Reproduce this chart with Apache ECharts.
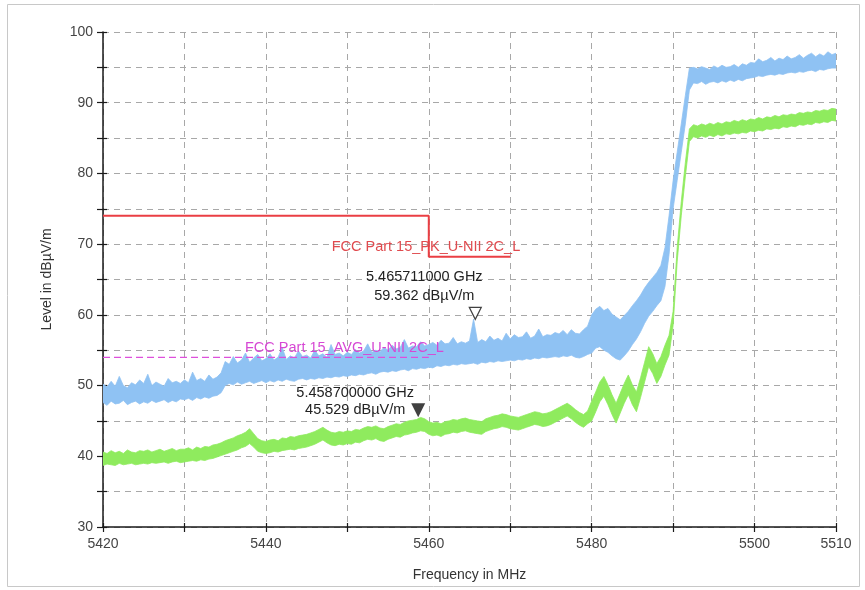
<!DOCTYPE html>
<html>
<head>
<meta charset="utf-8">
<script src="https://cdn.jsdelivr.net/npm/echarts@6/dist/echarts.min.js"></script>
<style>html,body{margin:0;padding:0;background:#fff}#c{width:865px;height:590px}</style>
</head>
<body>
<div id="c"></div>
<script>
// Sweep definition (MHz)
const FREQ_START = 5420;
const FREQ_STEP = 0.5;

// Peak detector trace (blue): max / min of the displayed noise band, dBµV/m
const peakMax = [
  50.2,49.8,50.6,49.9,51.3,50.0,49.7,50.4,50.1,50.8,
  50.3,51.6,50.0,50.5,50.2,49.9,51.0,50.4,50.6,50.3,
  50.8,50.4,51.9,50.7,51.0,50.6,51.5,50.9,51.2,51.8,
  53.4,53.0,54.1,53.2,53.6,54.6,53.3,53.9,54.4,53.5,
  53.8,54.5,53.6,54.0,55.4,53.7,54.2,53.9,54.9,54.1,
  54.3,53.9,55.0,54.2,54.5,54.0,55.8,54.4,54.6,54.2,
  54.7,54.4,55.1,54.6,54.9,55.9,54.7,55.0,54.8,55.4,
  55.0,55.7,55.2,55.4,56.5,55.3,55.6,55.5,56.2,55.6,
  55.8,56.1,55.7,56.4,55.9,56.0,56.8,55.9,56.2,56.0,
  56.3,59.4,56.1,56.5,56.2,57.0,56.4,56.7,56.3,57.4,
  56.6,57.2,56.8,56.9,57.6,56.7,57.0,58.0,56.9,57.2,
  57.1,57.5,57.3,57.8,57.2,57.9,57.4,57.3,57.9,58.4,
  60.0,60.8,61.2,60.6,60.9,60.1,59.7,59.3,59.9,60.5,
  61.3,62.0,62.8,63.8,64.6,65.3,66.0,67.0,69.5,74.0,
  79.0,83.0,87.0,91.0,94.9,95.0,94.8,95.1,94.9,94.7,
  95.2,94.9,95.3,95.0,95.1,95.4,95.0,95.5,95.3,95.7,
  95.6,96.2,95.8,96.0,96.4,95.9,96.3,96.1,96.6,96.2,
  96.4,96.8,96.3,96.7,97.0,96.5,96.9,96.6,97.2,96.8,
  97.0
];
const peakMin = [
  47.6,47.2,47.8,47.4,47.5,47.9,47.3,47.6,47.8,47.4,
  47.7,47.5,47.9,47.6,47.8,48.0,47.6,47.9,47.7,48.1,
  48.0,48.2,47.9,48.3,48.1,48.4,48.2,48.5,48.6,49.0,
  50.0,50.3,50.1,50.5,50.2,50.4,50.6,50.3,50.5,50.7,
  50.4,50.7,50.5,50.8,50.6,50.9,50.7,50.6,50.9,51.0,
  50.8,51.0,50.9,51.1,51.0,51.2,51.1,51.3,51.2,51.4,
  51.3,51.5,51.4,51.6,51.5,51.7,51.8,51.6,51.9,52.0,
  51.9,52.1,52.0,52.2,52.3,52.1,52.4,52.3,52.5,52.4,
  52.6,52.5,52.8,52.7,52.9,52.8,53.0,52.9,53.1,53.0,
  53.1,53.2,53.0,53.3,53.2,53.4,53.3,53.5,53.4,53.5,
  53.6,53.5,53.7,53.6,53.8,53.7,53.9,53.8,54.0,53.9,
  54.0,54.1,54.0,54.2,54.1,54.3,54.0,53.9,54.1,54.4,
  54.6,55.3,55.5,55.0,54.7,54.2,53.8,53.6,54.2,54.9,
  55.8,56.6,57.6,58.8,59.8,60.5,61.3,62.0,64.0,68.5,
  75.0,79.0,83.0,87.0,91.8,92.8,92.7,93.0,92.6,92.9,
  93.0,92.8,93.1,92.9,93.2,93.0,93.3,93.1,93.4,93.5,
  93.6,93.8,93.7,93.9,94.0,93.9,94.1,94.0,94.2,94.3,
  94.2,94.4,94.3,94.5,94.6,94.4,94.7,94.6,94.8,94.9,
  94.9
];

// Average detector trace (green): max / min of the noise band, dBµV/m
const avgMax = [
  40.6,40.4,40.8,40.5,40.7,40.4,40.9,40.6,40.5,40.8,
  40.7,40.9,40.6,40.8,41.0,40.7,40.9,41.1,40.8,41.0,
  41.0,41.2,40.9,41.3,41.1,41.4,41.3,41.6,41.7,41.9,
  42.2,42.4,42.6,42.9,43.1,43.4,43.9,43.2,42.5,42.2,
  42.1,42.3,42.4,42.2,42.6,42.5,42.8,42.7,42.9,43.0,
  43.1,43.3,43.5,43.8,44.1,43.7,43.4,43.3,43.5,43.4,
  43.6,43.5,43.8,43.7,44.0,44.2,44.1,44.3,44.0,43.9,
  44.2,44.4,44.6,44.5,44.8,45.0,45.1,45.2,45.5,45.3,
  44.9,44.7,44.8,44.6,44.9,45.0,45.2,45.1,45.3,45.4,
  45.2,45.1,45.0,44.9,45.3,45.5,45.7,45.8,46.0,45.9,
  45.7,45.6,45.5,45.7,45.9,46.1,46.3,46.2,46.0,46.1,
  46.3,46.6,46.9,47.2,47.5,47.1,46.6,46.2,45.9,46.4,
  47.8,49.1,50.5,51.3,50.1,48.7,47.5,48.9,50.3,51.5,
  50.1,49.1,51.1,53.3,55.5,54.5,53.1,54.1,55.7,57.1,
  60.5,69.5,76.0,81.5,86.3,86.9,86.7,87.0,86.8,87.1,
  86.9,87.2,87.0,87.3,87.2,87.5,87.3,87.6,87.4,87.7,
  87.6,87.9,87.7,88.0,87.9,88.2,88.0,88.3,88.2,88.4,
  88.3,88.6,88.5,88.7,88.6,88.9,88.8,89.0,88.9,89.2,
  89.1
];
const avgMin = [
  38.7,38.9,38.8,38.7,39.0,38.8,38.9,39.0,38.8,38.9,
  39.0,38.9,39.1,39.0,39.1,39.2,39.0,39.2,39.3,39.1,
  39.2,39.3,39.4,39.3,39.5,39.4,39.6,39.7,39.9,40.1,
  40.3,40.5,40.7,40.9,41.2,41.4,41.8,41.3,40.7,40.5,
  40.4,40.5,40.7,40.6,40.8,40.9,41.0,40.9,41.1,41.2,
  41.3,41.5,41.7,42.0,42.3,41.9,41.6,41.5,41.7,41.6,
  41.8,41.7,42.0,41.9,42.2,42.4,42.3,42.5,42.2,42.1,
  42.4,42.6,42.8,42.7,43.0,43.1,43.3,43.4,43.6,43.5,
  43.1,42.9,43.0,42.8,43.1,43.2,43.4,43.3,43.5,43.6,
  43.4,43.3,43.2,43.1,43.5,43.7,43.9,44.0,44.2,44.1,
  43.9,43.8,43.7,43.9,44.1,44.3,44.5,44.4,44.2,44.3,
  44.5,44.8,45.1,45.4,45.7,45.3,44.8,44.4,44.1,44.6,
  45.0,46.3,47.7,48.5,47.3,45.9,44.7,46.1,47.5,48.7,
  47.3,46.3,48.3,50.5,52.7,51.7,50.3,51.3,52.9,54.3,
  58.5,67.5,74.0,79.5,84.5,85.2,85.0,85.3,85.1,85.4,
  85.2,85.5,85.3,85.6,85.5,85.7,85.6,85.8,85.7,86.0,
  85.9,86.1,86.0,86.3,86.2,86.4,86.3,86.6,86.5,86.7,
  86.6,86.9,86.8,87.0,86.9,87.2,87.1,87.3,87.2,87.5,
  87.4
];

// Limit lines
const pkLimitFreq = [5420, 5460, 5460, 5470];
const pkLimitLevel = [74, 74, 68.2, 68.2];
const pkLimitName = 'FCC Part 15_PK_U-NII 2C_L';
const avgLimitFreq = [5420, 5460];
const avgLimitLevel = [54, 54];
const avgLimitName = 'FCC Part 15_AVG_U-NII 2C_L';

// Markers
const markerFreqMHz = [5465.711, 5458.7];
const markerLevel = [59.362, 45.529];
const markerFreqText = ['5.465711000 GHz', '5.458700000 GHz'];
const markerLevelText = ['59.362 dBµV/m', '45.529 dBµV/m'];

// Axis ticks
const yTickLabels = [30, 40, 50, 60, 70, 80, 90, 100];
const xTickLabels = [5420, 5440, 5460, 5480, 5500, 5510];

const freqOf = (i) => FREQ_START + i * FREQ_STEP;
const pairs = (xs, ys) => xs.map((x, i) => [x, ys[i]]);

const FONT = '"Liberation Sans", Arial, sans-serif';
const BLUE = '#8fc2f3';
const GREEN = '#8feb5e';
const chart = echarts.init(document.getElementById('c'), null, {renderer: 'canvas'});

const axisLineStyle = {color: '#1a1a1a', width: 1.5};

// Min/max noise band drawn as one polygon through the chart's coordinate system
function band(name, hi, lo, color) {
  return {
    type: 'custom', name: name, z: 3, clip: true,
    data: hi.map((v, i) => [freqOf(i), v, lo[i]]),
    encode: {x: 0, y: [1, 2]},
    renderItem: function (params, api) {
      if (params.dataIndex !== 0) return null;
      const pts = [];
      for (let i = 0; i < hi.length; i++) pts.push(api.coord([freqOf(i), hi[i]]));
      for (let i = lo.length - 1; i >= 0; i--) pts.push(api.coord([freqOf(i), lo[i]]));
      return {
        type: 'polygon', shape: {points: pts},
        style: {fill: color, stroke: color, lineWidth: 0.8, lineJoin: 'round'}
      };
    }
  };
}

const option = {
  animation: false,
  backgroundColor: '#fff',
  grid: {left: 103, right: 29, top: 32, bottom: 63, containLabel: false},
  xAxis: [{
    type: 'value', min: 5420, max: 5510, interval: 10,
    name: 'Frequency in MHz', nameLocation: 'middle', nameGap: 41,
    nameTextStyle: {fontFamily: FONT, fontSize: 14, color: '#333'},
    axisLine: {show: true, onZero: false, lineStyle: axisLineStyle},
    axisTick: {show: true, length: 5, lineStyle: {color: '#1a1a1a', width: 1.2}},
    axisLabel: {fontFamily: FONT, fontSize: 14, color: '#444', margin: 10,
      formatter: v => xTickLabels.includes(v) ? String(v) : ''},
    splitLine: {show: true, lineStyle: {color: '#a8a8a8', type: [6, 5], width: 1}}
  }, {
    type: 'value', min: 5420, max: 5510, interval: 10, position: 'bottom',
    axisLine: {show: false}, axisLabel: {show: false}, splitLine: {show: false},
    axisTick: {show: true, inside: true, length: 4, lineStyle: {color: '#1a1a1a', width: 1.2}}
  }],
  yAxis: [{
    type: 'value', min: 30, max: 100, interval: 5,
    name: 'Level in dBµV/m', nameLocation: 'middle', nameGap: 49,
    nameTextStyle: {fontFamily: FONT, fontSize: 14, color: '#333'},
    axisLine: {show: true, onZero: false, lineStyle: axisLineStyle},
    axisTick: {show: true, length: 6, lineStyle: {color: '#1a1a1a', width: 1.2}},
    axisLabel: {fontFamily: FONT, fontSize: 14, color: '#444', margin: 10,
      formatter: v => yTickLabels.includes(v) ? String(v) : ''},
    splitLine: {show: true, lineStyle: {color: '#a8a8a8', type: [6, 5], width: 1}}
  }, {
    type: 'value', min: 30, max: 100, interval: 5, position: 'left',
    axisLine: {show: false}, axisLabel: {show: false}, splitLine: {show: false},
    axisTick: {show: true, inside: true, length: 4, lineStyle: {color: '#1a1a1a', width: 1.2}}
  }],
  series: [
    band('Peak', peakMax, peakMin, BLUE),
    band('Average', avgMax, avgMin, GREEN),
    {
      type: 'line', name: pkLimitName, data: pairs(pkLimitFreq, pkLimitLevel), showSymbol: false,
      lineStyle: {color: '#ea3f44', width: 2}, z: 4
    },
    {
      type: 'line', name: avgLimitName, data: pairs(avgLimitFreq, avgLimitLevel), showSymbol: false,
      lineStyle: {color: '#de4fdc', width: 1.3, type: [7, 4]}, z: 4
    },
    {
      type: 'scatter', name: 'M1', data: [[markerFreqMHz[0], markerLevel[0]]],
      symbol: 'triangle', symbolRotate: 180, symbolSize: [12, 12], symbolOffset: [0, -6],
      itemStyle: {color: '#fff', borderColor: '#111', borderWidth: 1.2}, z: 6
    },
    {
      type: 'scatter', name: 'M2', data: [[markerFreqMHz[1], markerLevel[1]]],
      symbol: 'triangle', symbolRotate: 180, symbolSize: [14, 14], symbolOffset: [0, -7],
      itemStyle: {color: '#111'}, z: 6
    }
  ]
};
chart.setOption(option);

// Text annotations anchored on data through the chart's scales
const px = (f, v) => chart.convertToPixel({xAxisIndex: 0, yAxisIndex: 0}, [f, v]);
const pkEnd = px(pkLimitFreq[3], pkLimitLevel[3]);
const avgEnd = px(avgLimitFreq[1], avgLimitLevel[1]);
const m1 = px(markerFreqMHz[0], markerLevel[0]);
const m2 = px(markerFreqMHz[1], markerLevel[1]);
const txt = (x, y, text, color, align) => ({
  type: 'text', x: x, y: y, z: 20,
  style: {text: text, fill: color, font: '14.5px ' + FONT, textAlign: align || 'center', textVerticalAlign: 'middle'}
});
chart.setOption({
  graphic: [
    {type: 'rect', shape: {x: 7.5, y: 4.5, width: 852, height: 582}, style: {fill: 'none', stroke: '#c8c8c8', lineWidth: 1}, z: 0, silent: true},
    txt(pkEnd[0] + 10, pkEnd[1] - 10, pkLimitName, '#e04a4e', 'right'),
    txt(avgEnd[0] + 15, avgEnd[1] - 9, avgLimitName, '#d648d4', 'right'),
    txt(m1[0] - 51, m1[1] - 42, markerFreqText[0], '#222'),
    txt(m1[0] - 51, m1[1] - 23, markerLevelText[0], '#222'),
    txt(m2[0] - 63, m2[1] - 24, markerFreqText[1], '#222'),
    txt(m2[0] - 63, m2[1] - 7, markerLevelText[1], '#222')
  ]
});
</script>
</body>
</html>
